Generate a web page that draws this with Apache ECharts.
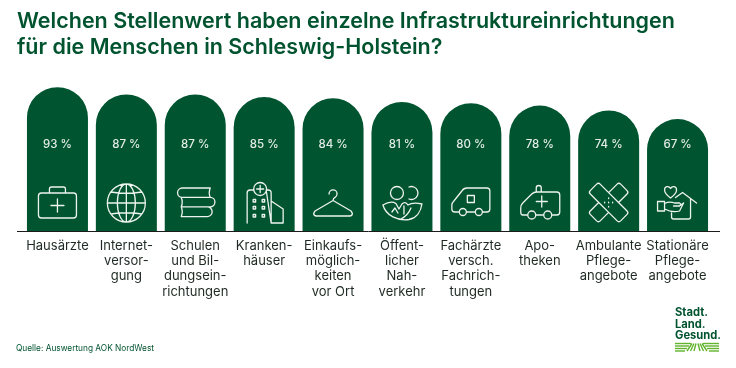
<!DOCTYPE html>
<html>
<head>
<meta charset="utf-8">
<style>html,body{margin:0;padding:0;background:#fff}#main{width:736px;height:368px}</style>
<script src="https://cdn.jsdelivr.net/npm/echarts@6/dist/echarts.min.js"></script>
</head>
<body>
<div id="main"></div>
<script>
var categories = ['Hausärzte', 'Internet-\nversor-\ngung', 'Schulen\nund Bil-\ndungsein-\nrichtungen', 'Kranken-\nhäuser', 'Einkaufs-\nmöglich-\nkeiten\nvor Ort', 'Öffent-\nlicher\nNah-\nverkehr', 'Fachärzte\nversch.\nFachrich-\ntungen', 'Apo-\ntheken', 'Ambulante\nPflege-\nangebote', 'Stationäre\nPflege-\nangebote'];
var values = [93, 87, 87, 85, 84, 81, 80, 78, 74, 67];

// icon outlines, x from bar centre, y from the baseline
var icons = [
	'M-16 -38 H16 a3 3 0 0 1 3 3 V-16 a3 3 0 0 1 -3 3 H-16 a3 3 0 0 1 -3 -3 V-35 a3 3 0 0 1 3 -3 Z M-8 -38 V-42 a2 2 0 0 1 2 -2 H6 a2 2 0 0 1 2 2 V-38 M0 -32 V-19 M-6.5 -25.5 H6.5',
	'M-19 -28 a19 19 0 1 0 38 0 a19 19 0 1 0 -38 0 Z M-9 -28 a9 19 0 1 0 18 0 a9 19 0 1 0 -18 0 Z M0 -47 V-9 M-19 -28 H19 M-15.5 -39 Q0 -36.5 15.5 -39 M-15.5 -17 Q0 -19.5 15.5 -17',
	'M15 -43 H-13 a4.7 4.7 0 0 0 0 9.4 H15 M15 -43 Q13 -38.3 15 -33.6 M-14 -33.6 Q-12 -28.9 -14 -24.2 H15 a4.7 4.7 0 0 0 0 -9.4 M-14 -24.2 Q-12 -19.3 -14 -14.4 H12 a4.7 4.7 0 0 0 0 -9.8',
	'M-17 -8 V-38 Q-17 -41 -14 -41 H-10 M2 -41 H4 Q7 -41 7 -38 V-8 Z M7 -30 L19 -22 V-8 H7 M-10.5 -42 a6.5 6.5 0 1 0 13 0 a6.5 6.5 0 1 0 -13 0 Z M-4 -45.5 V-38.5 M-7.5 -42 H-0.5 M-11 -31.5 h2.5 v2.5 h-2.5 Z M-2 -31.5 h2.5 v2.5 h-2.5 Z M-11 -24.5 h2.5 v2.5 h-2.5 Z M-2 -24.5 h2.5 v2.5 h-2.5 Z M-11 -16.5 h2.5 v2.5 h-2.5 Z M-2 -16.5 h2.5 v2.5 h-2.5 Z',
	'M-4 -37 a4 4 0 1 1 6 3.4 Q0 -32.5 0 -30.5 M0 -30.5 L-18 -20 Q-21 -16 -17 -15 H17 Q21 -16 18 -20 L0 -30.5',
	'M-11.5 -38 a6.5 6.5 0 1 0 13 0 a6.5 6.5 0 1 0 -13 0 Z M7 -44 a6.5 6.5 0 1 1 0 12 M-19 -26 C-16 -15 -4 -10 7 -11.5 C15 -13 19 -20 20 -27 C14 -28.5 9 -28 6 -26 M-19 -26 C-14 -29 -9 -29.5 -6 -27.5 L-3 -22 L0 -27 M6 -26 C4 -29 2 -29 0 -27 M2 -25 V-17 M-10 -19 L-7 -23 L-4 -18 M-1 -12 C3 -14 7 -18 9 -23',
	'M-12 -19 H-16 Q-19 -19 -19 -22 V-26 Q-19 -28 -17 -30 L-9 -40 Q-7 -43 -4 -43 H16 Q19 -43 19 -40 V-22 Q19 -19 16 -19 H12 M4 -19 H-4 M-11.5 -19 a3.5 3.5 0 1 0 7 0 a3.5 3.5 0 1 0 -7 0 Z M4.5 -19 a3.5 3.5 0 1 0 7 0 a3.5 3.5 0 1 0 -7 0 Z M-3.5 -35.5 h7 v7 h-7 Z',
	'M-13 -16 H-17 Q-19 -16 -19 -19 V-23 Q-19 -26 -17 -28 L-8 -37 Q-6 -39 -3 -39 H17 Q20 -39 20 -36 V-19 Q20 -16 17 -16 H13 M4 -16 H-4 M-12 -16 a4 4 0 1 0 8 0 a4 4 0 1 0 -8 0 Z M4 -16 a4 4 0 1 0 8 0 a4 4 0 1 0 -8 0 Z M-3.5 -39 V-43 a2.5 2.5 0 0 1 5 0 V-39 M2 -35 V-24 M-3.5 -29.5 H7.5',
	'M0 -38.4 L8.5 -46.9 Q10.2 -48.6 12 -46.9 L18.4 -40.4 Q20.1 -38.7 18.4 -37 L9.9 -28.5 L18.4 -20 Q20.1 -18.3 18.4 -16.6 L12 -10.1 Q10.2 -8.4 8.5 -10.1 L0 -18.6 L-8.5 -10.1 Q-10.2 -8.4 -12 -10.1 L-18.4 -16.6 Q-20.1 -18.3 -18.4 -20 L-9.9 -28.5 L-18.4 -37 Q-20.1 -38.7 -18.4 -40.4 L-12 -46.9 Q-10.2 -48.6 -8.5 -46.9 Z M0 -38.4 L9.9 -28.5 M-9.9 -28.5 L0 -18.6 M0 -33 v0.6 M-4 -28.8 v0.6 M4 -28.8 v0.6 M0 -24.6 v0.6 M0 -28.8 v0.6',
	'M-7 -33 C-11 -36 -13 -38 -13 -41 C-13 -45 -8.5 -45.5 -7 -42.5 C-5.5 -45.5 -1 -45 -1 -41 C-1 -38 -3 -36 -7 -33 Z M-2 -33.5 L5 -38.5 L19 -28 M13 -32 V-14 Q13 -12 11 -12 H-4 Q-6 -12 -6 -14 V-18 M-20 -29.5 H-13 V-20 H-20 Z M-13 -27.5 Q-8 -30 -3 -28 H2 Q4 -27 2 -25 H-4 M2 -25 L6 -28 M-13 -22 Q-5 -18 2 -20 L6 -28'
];

// field stripes of the logo
var stripes = [[675, 343.5, 691, 343.5], [703, 343.5, 719, 343.5], [675, 346, 689, 346], [705, 346, 719, 346], [675, 348.5, 687, 348.5], [707, 348.5, 719, 348.5], [675, 351, 685, 351], [709, 351, 719, 351], [692, 343.5, 687, 351], [694, 343.5, 690.5, 351], [696, 343.5, 694, 351], [698, 343.5, 700, 351], [700, 343.5, 703.5, 351], [702, 343.5, 707, 351]];
var stripeLines = stripes.map(function (s) {
	return {
		type: 'line',
		shape: {x1: s[0], y1: s[1], x2: s[2], y2: s[3]},
		style: {stroke: '#62b32e', lineWidth: 1.4}
	};
});

var chart = echarts.init(document.getElementById('main'));
chart.setOption({
	animation: false,
	title: {
		text: 'Welchen Stellenwert haben einzelne Infrastruktureinrichtungen\nfür die Menschen in Schleswig-Holstein?',
		left: 17,
		top: 8,
		padding: 0,
		textStyle: {
			color: '#00532f',
			fontFamily: 'Inter',
			fontSize: 21.5,
			fontWeight: 600,
			lineHeight: 26.5
		}
	},
	grid: {
		left: 23,
		width: 689,
		top: 81,
		height: 150
	},
	xAxis: {
		type: 'category',
		data: categories,
		axisLine: {show: false, onZero: false},
		axisTick: {show: false},
		axisLabel: {
			interval: 0,
			margin: 7,
			color: '#1f2a24',
			fontFamily: 'Inter',
			fontSize: 13,
			lineHeight: 15.4
		}
	},
	yAxis: {
		type: 'value',
		min: -24,
		max: 98,
		show: false
	},
	series: [{
		type: 'custom',
		data: values,
		encode: {x: 0, y: 1},
		renderItem: function (params, api) {
			var i = params.dataIndex;
			var top = api.coord([i, api.value(1)]);
			var base = api.coord([i, -24]);
			var w = 61;
			return {
				type: 'group',
				children: [{
					type: 'rect',
					shape: {x: top[0] - w / 2, y: top[1], width: w, height: base[1] - top[1], r: [w / 2, w / 2, 0, 0]},
					style: {fill: '#005530'}
				}, {
					type: 'text',
					style: {
						text: api.value(1) + ' %',
						x: top[0],
						y: base[1] - 86,
						align: 'center',
						verticalAlign: 'middle',
						fill: '#e4ece7',
						font: '500 11.5px Inter'
					}
				}, {
					type: 'path',
					x: top[0],
					y: base[1],
					shape: {pathData: icons[i]},
					style: {fill: 'none', stroke: '#edf3ef', lineWidth: 1.3, lineCap: 'round', lineJoin: 'round'}
				}]
			};
		}
	}],
	graphic: [{
		type: 'line',
		shape: {x1: 17, y1: 231.5, x2: 720, y2: 231.5},
		style: {stroke: '#1c1c1c', lineWidth: 1}
	}, {
		type: 'text',
		style: {x: 16, y: 345, text: 'Quelle: Auswertung AOK NordWest', fill: '#00532f', font: '8.3px Inter'}
	}, {
		type: 'text',
		style: {x: 675, y: 307, text: 'Stadt.\nLand.\nGesund.', fill: '#00532f', font: '700 11.2px Inter', lineHeight: 11.6}
	}].concat(stripeLines)
});
</script>
</body>
</html>
